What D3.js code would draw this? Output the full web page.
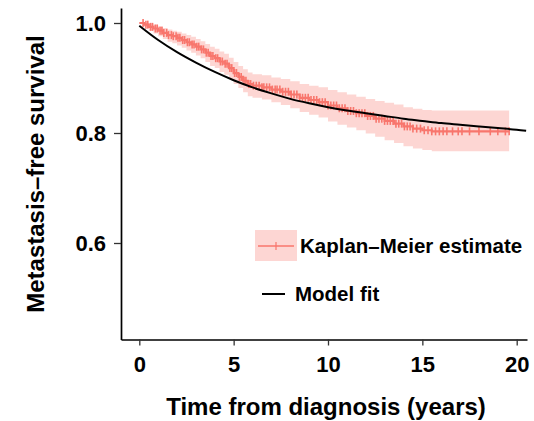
<!DOCTYPE html>
<html><head><meta charset="utf-8">
<script src="https://cdn.jsdelivr.net/npm/d3@7/dist/d3.min.js"></script>
<style>
html,body{margin:0;padding:0;background:#fff;}
svg{display:block;font-family:"Liberation Sans",Arial,Helvetica,sans-serif;font-weight:bold;}
</style></head>
<body><svg id="chart" width="534" height="421"></svg>
<script>
// Kaplan–Meier estimate (step function) with 95% band
const kmTime  = [0,0.25,0.5,0.75,1.0,1.25,1.5,1.75,2.0,2.25,2.5,2.75,3.0,3.25,3.5,3.75,4.0,4.25,4.5,4.75,5.0,5.25,5.5,5.75,6.0,6.5,7.0,7.5,8.0,8.5,9.0,9.5,10.0,10.5,11.0,11.5,12.0,12.5,13.0,13.5,14.0,14.5,15.0,15.5,19.6];
const kmSurv  = [1.0,0.997,0.993,0.99,0.986,0.982,0.978,0.976,0.973,0.969,0.965,0.961,0.957,0.952,0.946,0.940,0.936,0.930,0.926,0.918,0.909,0.902,0.895,0.889,0.886,0.883,0.879,0.875,0.870,0.864,0.860,0.856,0.850,0.845,0.840,0.836,0.831,0.826,0.822,0.817,0.812,0.808,0.805,0.803,0.803];
const kmLower = [1.0,0.993,0.986,0.981,0.976,0.971,0.966,0.963,0.959,0.955,0.950,0.946,0.941,0.936,0.929,0.922,0.918,0.911,0.906,0.898,0.889,0.882,0.874,0.867,0.864,0.861,0.856,0.851,0.845,0.838,0.833,0.828,0.821,0.815,0.810,0.805,0.799,0.793,0.787,0.782,0.776,0.772,0.769,0.767,0.767];
const kmUpper = [1.0,1.0,0.999,0.997,0.994,0.991,0.988,0.986,0.984,0.981,0.978,0.975,0.971,0.967,0.962,0.957,0.953,0.948,0.944,0.937,0.929,0.922,0.916,0.910,0.907,0.905,0.901,0.898,0.894,0.889,0.886,0.883,0.878,0.874,0.870,0.866,0.862,0.858,0.855,0.852,0.847,0.844,0.842,0.841,0.841];
// censoring times (tick marks)
const censorTimes = [0.2,0.35,0.45,0.6,0.7,0.85,0.95,1.1,1.2,1.3,1.45,1.55,1.7,1.8,1.95,2.05,2.15,2.3,2.4,2.55,2.65,2.8,2.9,3.05,3.15,3.3,3.4,3.55,3.65,3.8,3.9,4.05,4.15,4.3,4.4,4.55,4.65,4.8,4.9,5.05,5.15,5.3,5.4,5.55,5.65,5.8,5.9,6.05,6.2,6.35,6.5,6.6,6.75,6.9,7.05,7.2,7.3,7.45,7.6,7.75,7.9,8.05,8.2,8.35,8.5,8.65,8.8,8.95,9.1,9.25,9.4,9.55,9.7,9.85,10.0,10.15,10.3,10.45,10.6,10.75,10.9,11.05,11.2,11.35,11.5,11.65,11.8,11.95,12.1,12.25,12.4,12.55,12.7,12.85,13.0,13.15,13.3,13.45,13.6,13.75,13.9,14.05,14.2,14.35,14.5,14.7,14.9,15.1,15.3,15.5,15.7,15.9,16.1,16.3,16.6,16.9,17.1,17.5,18.0,18.6,19.0,19.4,19.6];
// Model fit curve
const fitTime = [0,1,2,3,4,5,6,7,8,9,10,11,12,13,14,15,16,17,18,19,20,20.5];
const fitSurv = [0.995,0.969,0.947,0.928,0.911,0.896,0.883,0.872,0.862,0.854,0.847,0.841,0.836,0.831,0.826,0.822,0.818,0.815,0.812,0.809,0.806,0.804];
const xTicks = [0,5,10,15,20];
const yTicks = [0.6,0.8,1.0];
const xTitle = "Time from diagnosis (years)";
const yTitle = "Metastasis\u2013free survival";
const legendLabels = ["Kaplan\u2013Meier estimate","Model fit"];

const svg = d3.select("#chart");
const kmColor = "#F8766D";

const xBase = d3.scaleLinear().domain([0,20]).range([139.3,516.7]);
const yBase = d3.scaleLinear().domain([0.6,1.0]).range([243,23]);
const x = d3.scaleLinear().domain([xBase.invert(121), xBase.invert(527)]).range([121,527]);
const y = d3.scaleLinear().domain([yBase.invert(339.5), yBase.invert(8)]).range([339.5,8]);

const km = kmTime.map((t,i)=>({t, s:kmSurv[i], lo:kmLower[i], hi:kmUpper[i]}));

// band
svg.append("path").datum(km)
  .attr("fill", kmColor).attr("fill-opacity",0.3)
  .attr("d", d3.area().curve(d3.curveStepAfter).x(d=>x(d.t)).y0(d=>y(d.lo)).y1(d=>y(d.hi)));

// KM line
svg.append("path").datum(km)
  .attr("fill","none").attr("stroke",kmColor).attr("stroke-width",2.2)
  .attr("d", d3.line().curve(d3.curveStepAfter).x(d=>x(d.t)).y(d=>y(d.s)));

// censor ticks
const stepVal = t => { let v = kmSurv[0]; for (let i=0;i<kmTime.length;i++){ if (kmTime[i]<=t) v = kmSurv[i]; } return v; };
svg.append("g").selectAll("line").data(censorTimes).join("line")
  .attr("x1",d=>x(d)).attr("x2",d=>x(d))
  .attr("y1",d=>y(stepVal(d))-4).attr("y2",d=>y(stepVal(d))+4)
  .attr("stroke",kmColor).attr("stroke-width",1.6);

// model fit
svg.append("path").datum(fitTime.map((t,i)=>({t,s:fitSurv[i]})))
  .attr("fill","none").attr("stroke","#000").attr("stroke-width",2)
  .attr("d", d3.line().curve(d3.curveMonotoneX).x(d=>x(d.t)).y(d=>y(d.s)));

// axes
const xAxis = svg.append("g").attr("transform","translate(0,339.5)")
  .call(d3.axisBottom(x).tickValues(xTicks).tickFormat(d3.format("d")).tickSizeOuter(0).tickSizeInner(6).tickPadding(11));
const yAxis = svg.append("g").attr("transform","translate(121,0)")
  .call(d3.axisLeft(y).tickValues(yTicks).tickFormat(d3.format(".1f")).tickSizeOuter(0).tickSizeInner(7).tickPadding(8));
[xAxis,yAxis].forEach(g=>{
  g.select(".domain").attr("stroke","#000").attr("stroke-width",1.7);
  g.selectAll(".tick line").attr("stroke","#333").attr("stroke-width",1.3);
  g.selectAll(".tick text").attr("fill","#000").style("font-size","22px").style("font-weight","bold").style("font-family","'Liberation Sans',Arial,sans-serif");
});

// titles
svg.append("text").attr("x",326).attr("y",415).attr("text-anchor","middle")
  .style("font-size","24px").text(xTitle);
svg.append("text").attr("transform","translate(44,174) rotate(-90)").attr("text-anchor","middle")
  .style("font-size","24px").text(yTitle);

// legend
const lg = svg.append("g");
lg.append("rect").attr("x",255).attr("y",230).attr("width",42).attr("height",31)
  .attr("fill",kmColor).attr("fill-opacity",0.3);
lg.append("line").attr("x1",258).attr("x2",294).attr("y1",246).attr("y2",246)
  .attr("stroke",kmColor).attr("stroke-width",1.6);
lg.append("line").attr("x1",276).attr("x2",276).attr("y1",242).attr("y2",250)
  .attr("stroke",kmColor).attr("stroke-width",1.2);
lg.append("text").attr("x",300).attr("y",253).style("font-size","20.5px").text(legendLabels[0]);
lg.append("line").attr("x1",262).attr("x2",285).attr("y1",294).attr("y2",294)
  .attr("stroke","#000").attr("stroke-width",2);
lg.append("text").attr("x",295).attr("y",301).style("font-size","20.5px").text(legendLabels[1]);
</script></body></html>
